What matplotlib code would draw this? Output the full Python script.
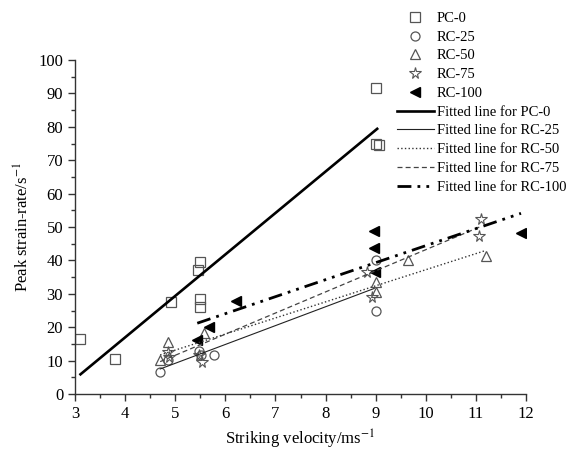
import matplotlib
matplotlib.use("Agg")
import matplotlib.pyplot as plt
from matplotlib.ticker import MultipleLocator

plt.rcParams['font.family'] = ['Liberation Serif', 'DejaVu Serif']
plt.rcParams['mathtext.fontset'] = 'stix'

# ---- data ----
pc0_x = [3.11, 3.80, 4.92, 5.45, 5.50, 5.50, 5.50, 9.01, 9.00, 9.06]
pc0_y = [16.4, 10.4, 27.5, 37.0, 39.5, 28.4, 26.0, 91.7, 74.9, 74.7]

rc25_x = [4.70, 4.85, 5.48, 5.52, 5.77, 9.00, 9.00]
rc25_y = [6.6, 10.2, 12.9, 11.7, 11.7, 40.1, 24.8]

rc50_x = [4.70, 4.86, 5.58, 9.00, 9.00, 9.65, 11.20]
rc50_y = [10.2, 15.7, 18.4, 33.6, 30.6, 40.1, 41.3]

rc75_x = [4.86, 4.88, 5.53, 5.48, 8.82, 8.92, 11.07, 11.10]
rc75_y = [12.7, 11.2, 9.7, 11.7, 36.6, 29.0, 47.3, 52.4]

rc100_x = [5.44, 5.68, 6.21, 8.96, 8.96, 8.99, 11.90]
rc100_y = [16.2, 20.2, 27.8, 48.9, 43.6, 36.4, 48.3]

# fitted lines: x range and y at the ends
fit_pc0_x, fit_pc0_y = [3.11, 9.03], [5.9, 79.4]
fit_rc25_x, fit_rc25_y = [4.70, 8.97], [7.5, 31.6]
fit_rc50_x, fit_rc50_y = [4.70, 11.18], [11.7, 42.9]
fit_rc75_x, fit_rc75_y = [4.70, 11.12], [9.7, 50.3]
fit_rc100_x, fit_rc100_y = [5.44, 11.90], [21.2, 54.1]

fig = plt.figure(figsize=(5.79, 4.53), dpi=100)
ax = fig.add_axes([0.1295, 0.1302, 0.779, 0.7373])

gray = '#555555'
ms = 6.5
ax.plot(pc0_x, pc0_y, 's', mfc='none', mec=gray, mew=0.9, ms=ms, label='PC-0')
ax.plot(rc25_x, rc25_y, 'o', mfc='none', mec=gray, mew=0.9, ms=ms, label='RC-25')
ax.plot(rc50_x, rc50_y, '^', mfc='none', mec=gray, mew=0.9, ms=ms + 1, label='RC-50')
ax.plot(rc75_x, rc75_y, '*', mfc='none', mec=gray, mew=0.8, ms=ms + 2, label='RC-75')
ax.plot(rc100_x, rc100_y, '<', color='black', ms=ms, label='RC-100')

ax.plot(fit_pc0_x, fit_pc0_y, '-', color='black', lw=1.9, label='Fitted line for PC-0')
ax.plot(fit_rc25_x, fit_rc25_y, '-', color='#222222', lw=0.8, label='Fitted line for RC-25')
ax.plot(fit_rc50_x, fit_rc50_y, ':', color='#333333', lw=1.0, label='Fitted line for RC-50')
ax.plot(fit_rc75_x, fit_rc75_y, '--', color='#444444', lw=0.9, dashes=(4, 2.5), label='Fitted line for RC-75')
ax.plot(fit_rc100_x, fit_rc100_y, color='black', lw=2.0, dashes=(5, 2.2, 1, 2.2, 1, 2.2),
        label='Fitted line for RC-100')

ax.set_xlim(3, 12)
ax.set_ylim(0, 100)
ax.xaxis.set_major_locator(MultipleLocator(1))
ax.xaxis.set_minor_locator(MultipleLocator(0.5))
ax.yaxis.set_major_locator(MultipleLocator(10))
ax.yaxis.set_minor_locator(MultipleLocator(5))
for s in ['top', 'right']:
    ax.spines[s].set_visible(False)
for s in ['left', 'bottom']:
    ax.spines[s].set_linewidth(1.0)
    ax.spines[s].set_color('#333333')
ax.tick_params(which='major', direction='out', length=5, width=1, labelsize=12, colors='#333333', labelcolor='black')
ax.tick_params(which='minor', direction='out', length=3, width=1, colors='#333333')

ax.set_xlabel('Striking velocity/ms$^{-1}$', fontsize=12)
ax.set_ylabel('Peak strain-rate/s$^{-1}$', fontsize=12)

leg = ax.legend(loc='upper left', bbox_to_anchor=(0.686, 0.974), bbox_transform=fig.transFigure,
                frameon=False, fontsize=10.5, handlelength=2.5, handletextpad=0.2,
                labelspacing=0.38, borderaxespad=0, borderpad=0)

fig.savefig('out.png', dpi=100)
